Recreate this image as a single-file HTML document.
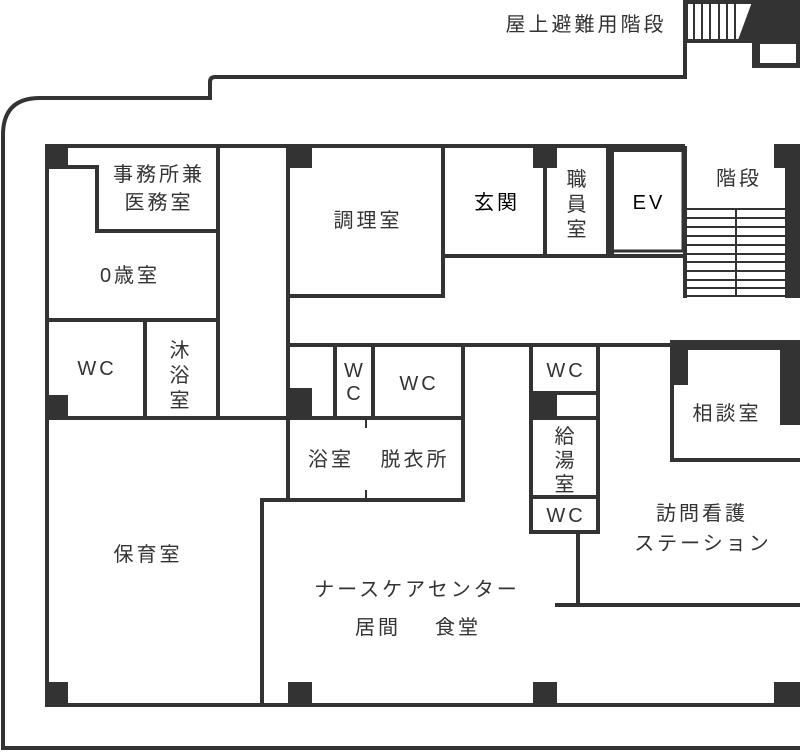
<!DOCTYPE html>
<html><head><meta charset="utf-8"><style>
html,body{margin:0;padding:0;background:#fff;}
svg{display:block}
text{font-family:"Liberation Sans","Noto Sans CJK JP",sans-serif;font-size:20px;fill:#333;letter-spacing:3px;text-anchor:middle;}
</style></head><body>
<svg width="800" height="752" viewBox="0 0 800 752" xmlns="http://www.w3.org/2000/svg">
<g fill="none" stroke="#333" stroke-width="4">
<path d="M685,2 V77 H215 Q210,77 210,82 V98 H40 Q3,98 3,135 V748 H800"/>
<path d="M683,2 H800"/>
<path d="M685,41 H800"/>
<path d="M47,146 H685"/>
<path d="M47,146 V705 H800"/>
<path d="M47,167 H97 V231 H218"/>
<path d="M218,146 V418"/>
<path d="M288,146 V500"/>
<path d="M47,320 H218"/>
<path d="M145,320 V418"/>
<path d="M47,418 H463"/>
<path d="M288,296 H443 V146"/>
<path d="M443,256 H685"/>
<path d="M545,146 V256"/>
<path d="M683,146 V251 M613,251 H683" stroke-width="3"/>
<path d="M685,146 V298"/>
<path d="M288,345 H672"/>
<path d="M335,345 V418"/>
<path d="M373,345 V418"/>
<path d="M463,345 V500 H262 V705"/>
<path d="M366,418 V428 M366,490 V500" stroke-width="2"/>
<path d="M531,345 V532 H598 V345"/>
<path d="M531,393 H598 M557,418 H598 M531,418 H598 M531,497 H598"/>
<path d="M578,532 V605 M555,605 H800"/>
<path d="M672,385 V460 H800"/>
</g>
<rect x="606" y="146" width="8" height="112" fill="#333"/>
<rect x="606" y="146" width="79" height="6" fill="#333"/>
<g stroke="#333" stroke-width="2">
<path d="M686,209 H785 M686,218 H785 M686,227 H785 M686,236 H785 M686,245 H785 M686,254 H785 M686,262 H785 M686,271 H785 M686,280 H785 M686,288 H785 M686,296 H785"/>
<path d="M736,209 V296"/>
<path d="M687,3 V40 M694,3 V40 M702,3 V40 M710,3 V40 M719,3 V40 M727,3 V40 M735,3 V40"/>
</g>
<g fill="#333">
<polygon points="752,2 800,2 800,68 752,68 752,40 738,40"/>
<rect x="760" y="44" width="36" height="19" fill="#fff"/>
<rect x="45" y="144" width="23" height="23"/>
<rect x="286" y="144" width="26" height="24"/>
<rect x="533" y="144" width="24" height="24"/>
<rect x="774" y="144" width="26" height="24"/>
<rect x="785" y="144" width="15" height="154"/>
<rect x="45" y="395" width="23" height="23"/>
<rect x="286" y="388" width="26" height="30"/>
<rect x="529" y="393" width="28" height="25"/>
<rect x="670" y="340" width="130" height="10"/>
<rect x="670" y="340" width="18" height="45"/>
<rect x="780" y="340" width="20" height="85"/>
<rect x="45" y="682" width="23" height="23"/>
<rect x="288" y="682" width="24" height="23"/>
<rect x="533" y="682" width="24" height="23"/>
<rect x="774" y="682" width="26" height="23"/>
</g>
<text x="586" y="31">屋上避難用階段</text>
<text x="159" y="181">事務所兼</text>
<text x="159" y="209">医務室</text>
<text x="130" y="282">0歳室</text>
<text x="97" y="375">WC</text>
<text x="181" y="357">沐</text>
<text x="181" y="382">浴</text>
<text x="181" y="407">室</text>
<text x="368" y="227">調理室</text>
<text x="497" y="209" style="fill:#000">玄関</text>
<text x="578" y="186">職</text>
<text x="578" y="211">員</text>
<text x="578" y="236">室</text>
<text x="649" y="209" style="fill:#000">EV</text>
<text x="739" y="185">階段</text>
<text x="355" y="377">W</text>
<text x="355" y="400">C</text>
<text x="419" y="390">WC</text>
<text x="566" y="377">WC</text>
<text x="331" y="466">浴室</text>
<text x="415" y="466">脱衣所</text>
<text x="566" y="443">給</text>
<text x="566" y="467">湯</text>
<text x="566" y="491">室</text>
<text x="566" y="522">WC</text>
<text x="727" y="420">相談室</text>
<text x="702" y="520">訪問看護</text>
<text x="703" y="550">ステーション</text>
<text x="417" y="596">ナースケアセンター</text>
<text x="378" y="634">居間</text>
<text x="458" y="634">食堂</text>
<text x="148" y="561">保育室</text>
</svg>
</body></html>
